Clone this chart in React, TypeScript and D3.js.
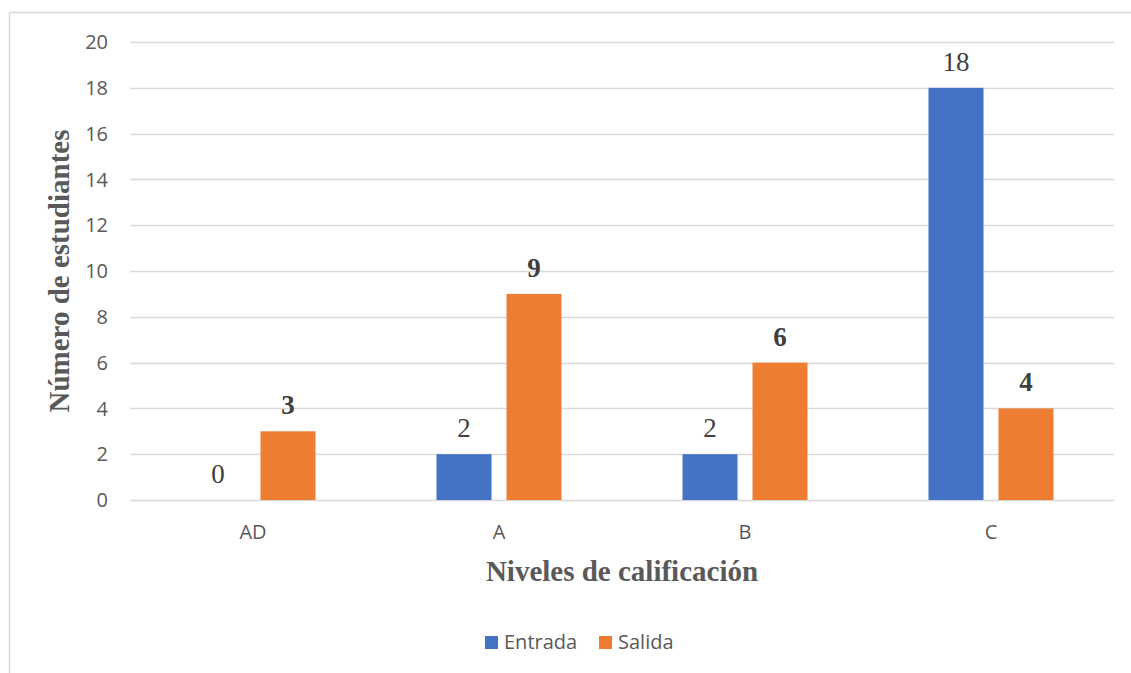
import React from "react";
import * as d3 from "d3";

const categories = ["AD", "A", "B", "C"];
const seriesNames = ["Entrada", "Salida"];
const entrada = [0, 2, 2, 18];
const salida = [3, 9, 6, 4];
const yTicks = [0, 2, 4, 6, 8, 10, 12, 14, 16, 18, 20];
const colors = ["#4472C4", "#ED7D31"];

export default function App() {
  const W = 1131, H = 673;
  const left = 130, right = 1114, top = 42, bottom = 500;
  const x = d3.scaleBand<string>().domain(categories).range([left, right]);
  const y = d3.scaleLinear().domain([0, 20]).range([bottom, top]);
  const barW = 55;
  const offset = 35;
  const series = [entrada, salida];
  const sans = "'Open Sans', 'Liberation Sans', sans-serif";
  const serif = "'Liberation Serif', 'Times New Roman', serif";
  return (
    <svg width={W} height={H} style={{ position: "absolute", left: 0, top: 0, background: "#fff" }}>
      <rect x={9.5} y={12.5} width={1200} height={700} fill="#fff" stroke="#d9d9d9" strokeWidth={1.5} />
      {yTicks.map((t) => (
        <g key={t}>
          <line x1={left} x2={right} y1={Math.round(y(t)) + 0.5} y2={Math.round(y(t)) + 0.5} stroke="#d9d9d9" strokeWidth={1.5} />
          <text x={108} y={y(t)} dy="0.36em" textAnchor="end" fontFamily={sans} fontSize={20} fill="#595959">{t}</text>
        </g>
      ))}
      {categories.map((c, i) => {
        const cx = (x(c) as number) + x.bandwidth() / 2;
        return (
          <g key={c}>
            <text x={cx} y={539} textAnchor="middle" fontFamily={sans} fontSize={20} fill="#595959">{c}</text>
            {series.map((s, j) => {
              const bx = cx + (j === 0 ? -offset : offset);
              const v = s[i];
              return (
                <g key={j}>
                  {v > 0 && (
                    <rect x={bx - barW / 2} y={y(v)} width={barW} height={y(0) - y(v)} fill={colors[j]} />
                  )}
                  <text x={bx} y={y(v) - 17} textAnchor="middle" fontFamily={serif} fontSize={27}
                    fontWeight={j === 1 ? "bold" : "normal"} fill="#404040">{v}</text>
                </g>
              );
            })}
          </g>
        );
      })}
      <text x={622} y={581} textAnchor="middle" fontFamily={serif} fontWeight="bold" fontSize={29} fill="#595959">Niveles de calificación</text>
      <text transform={`translate(69,${(top + bottom) / 2}) rotate(-90)`} textAnchor="middle" fontFamily={serif} fontWeight="bold" fontSize={29} fill="#595959">Número de estudiantes</text>
      {seriesNames.map((n, j) => {
        const lx = j === 0 ? 485 : 599;
        return (
          <g key={n}>
            <rect x={lx} y={636} width={13} height={13} fill={colors[j]} />
            <text x={lx + 19} y={649} fontFamily={sans} fontSize={20} fill="#595959">{n}</text>
          </g>
        );
      })}
    </svg>
  );
}
